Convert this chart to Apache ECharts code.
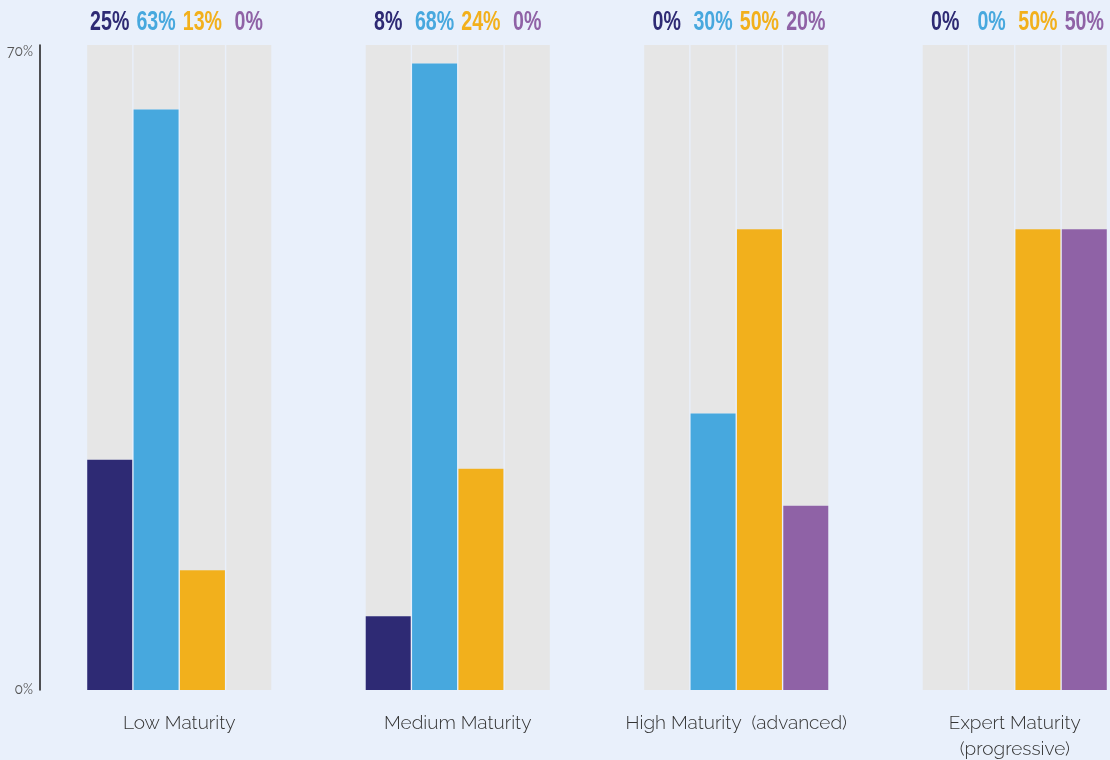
<!DOCTYPE html>
<html>
<head>
<meta charset="utf-8">
<script src="https://cdn.jsdelivr.net/npm/echarts@6/dist/echarts.min.js"></script>
<style>
  html, body { margin: 0; padding: 0; background: #e9f0fb; overflow: hidden; width: 1110px; height: 760px; }
  /* the last category band runs a little past the right edge */
  #chart { width: 1154px; height: 760px; }
</style>
</head>
<body>
<div id="chart"></div>
<script>
// Maturity levels along the x axis
const categories = ['Low Maturity', 'Medium Maturity', 'High Maturity  (advanced)', 'Expert Maturity\n(progressive)'];

// Share of respondents (%) per colour group in each maturity level
const navyValues = [25, 8, 0, 0];
const skyValues = [63, 68, 30, 0];
const amberValues = [13, 24, 50, 50];
const violetValues = [0, 0, 20, 50];

// Value axis range
const yMin = 0;
const yMax = 70;

const groups = [
  { name: 'navy', values: navyValues, color: '#2e2a74' },
  { name: 'sky', values: skyValues, color: '#47a8de' },
  { name: 'amber', values: amberValues, color: '#f2b01c' },
  { name: 'violet', values: violetValues, color: '#8f62a6' }
];

const BAR_W = 45;
const BAR_GAP = 0.03;
const textFont = 'Raleway, Lato, "Open Sans", sans-serif';
const figureFont = 'bold 28px "Liberation Sans", Arial, sans-serif';

const series = [];
groups.forEach((g, i) => {
  // coloured bar
  series.push({
    name: g.name,
    type: 'bar',
    stack: 'col' + i,
    barWidth: BAR_W,
    barGap: (BAR_GAP * 100) + '%',
    data: g.values,
    itemStyle: { color: g.color },
    emphasis: { disabled: true },
    z: 3
  });
  // grey remainder up to the axis max
  series.push({
    name: g.name + '-rest',
    type: 'bar',
    stack: 'col' + i,
    barWidth: BAR_W,
    barGap: (BAR_GAP * 100) + '%',
    data: g.values.map(v => yMax - v),
    itemStyle: { color: '#e6e6e6' },
    emphasis: { disabled: true },
    z: 2
  });
});

// condensed percentage figures above each column
const figureData = [];
categories.forEach((c, ci) => {
  groups.forEach((g, gi) => {
    figureData.push([ci, gi, g.values[ci]]);
  });
});
series.push({
  name: 'figures',
  type: 'custom',
  data: figureData,
  silent: true,
  z: 5,
  renderItem: (params, api) => {
    const ci = api.value(0);
    const gi = api.value(1);
    const top = api.coord([ci, yMax]);
    const step = BAR_W * (1 + BAR_GAP);
    return {
      type: 'text',
      x: top[0] + (gi - 1.5) * step,
      y: top[1] - 23,
      scaleX: 0.7,
      style: {
        x: 0,
        y: 0,
        text: api.value(2) + '%',
        fill: groups[gi].color,
        font: figureFont,
        align: 'center',
        verticalAlign: 'middle'
      }
    };
  }
});

const chart = echarts.init(document.getElementById('chart'), null, { renderer: 'canvas' });
chart.setOption({
  backgroundColor: '#e9f0fb',
  animation: false,
  grid: { left: 40, top: 45, right: 0, height: 645, containLabel: false, outerBoundsMode: 'none' },
  xAxis: {
    type: 'category',
    data: categories,
    axisLine: { show: false },
    axisTick: { show: false },
    axisLabel: {
      margin: 20,
      color: '#333',
      fontFamily: textFont,
      fontWeight: 300,
      fontSize: 19,
      lineHeight: 26,
      interval: 0
    }
  },
  yAxis: {
    type: 'value',
    min: yMin,
    max: yMax,
    interval: 70,
    splitLine: { show: false },
    axisTick: { show: false },
    axisLine: { show: true, lineStyle: { color: '#1a1a1a', width: 1.5 } },
    axisLabel: {
      margin: 7,
      color: '#555',
      fontFamily: textFont,
      fontSize: 14,
      formatter: v => v + '%',
      verticalAlignMaxLabel: 'top'
    }
  },
  series: series
});
</script>
</body>
</html>
